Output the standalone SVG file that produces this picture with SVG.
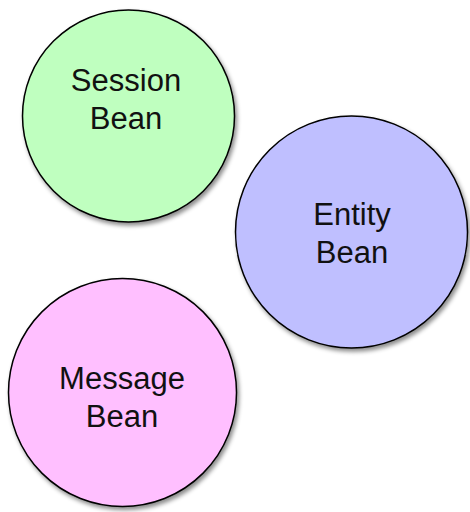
<svg xmlns="http://www.w3.org/2000/svg" width="470" height="512" viewBox="0 0 470 512">
<style>
.node circle{stroke:#000;stroke-width:1.5;filter:url(#sh)}
.node text{font-family:"Liberation Sans",Arial,Helvetica,sans-serif;font-size:31px;fill:#111;text-anchor:middle}
</style>
<defs>
<filter id="sh" x="-20%" y="-20%" width="140%" height="140%">
<feDropShadow dx="2" dy="3" stdDeviation="2" flood-color="#000" flood-opacity="0.45"/>
</filter>
</defs>
<rect width="470" height="512" fill="#fff"/>
<g id="connectors"></g>
<g id="session" class="node">
<circle cx="128.5" cy="116" r="106" fill="#bfffbf"/>
<text x="126" y="91">Session</text>
<text x="126" y="129">Bean</text>
</g>
<g id="entity" class="node">
<circle cx="351.5" cy="232" r="116" fill="#bfbfff"/>
<text x="352" y="225">Entity</text>
<text x="352" y="263">Bean</text>
</g>
<g id="message" class="node">
<circle cx="122.5" cy="392.5" r="114" fill="#ffbfff"/>
<text x="122" y="389">Message</text>
<text x="122" y="427">Bean</text>
</g>
</svg>
